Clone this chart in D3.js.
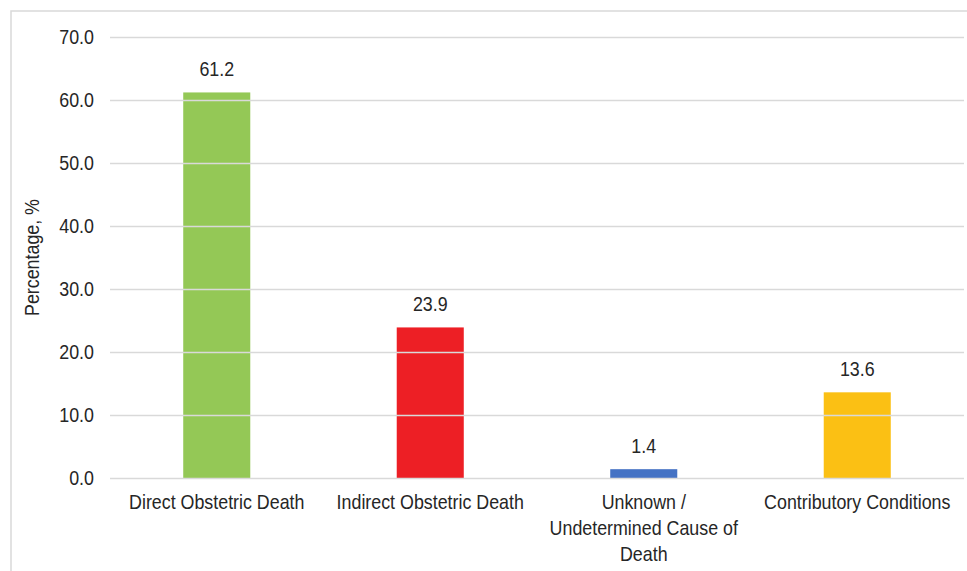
<!DOCTYPE html>
<html><head><meta charset="utf-8">
<script src="https://cdn.jsdelivr.net/npm/d3@7"></script>
<style>
html,body{margin:0;padding:0;background:#fff;}
svg{display:block;}
text{font-family:"Liberation Sans",Arial,sans-serif;fill:#262626;}
</style></head>
<body>
<svg id="chart" width="967" height="571"></svg>
<script>
const categories = [
  ["Direct Obstetric Death"],
  ["Indirect Obstetric Death"],
  ["Unknown /", "Undetermined Cause of", "Death"],
  ["Contributory Conditions"]
];
const values = [61.2, 23.9, 1.4, 13.6];
const barColors = ["#94C856", "#ED1F25", "#4472C4", "#FBC014"];
const yTicks = [0, 10, 20, 30, 40, 50, 60, 70];
const yTitle = "Percentage, %";

const svg = d3.select("#chart");
const plot = {left: 110, right: 964, top: 37, bottom: 478};
const FS = 21, CONDENSE = 0.85;

// chart border
svg.append("rect").attr("x", 11).attr("y", 11).attr("width", 1000).attr("height", 700)
  .attr("fill", "none").attr("stroke", "#d9d9d9").attr("stroke-width", 1.5);

const x = d3.scaleBand().domain(d3.range(categories.length))
  .range([plot.left, plot.right]).paddingInner(0.686).paddingOuter(0.343);
const y = d3.scaleLinear().domain([0, 70]).range([plot.bottom, plot.top]);

// bars
svg.append("g").selectAll("rect").data(values).join("rect")
  .attr("x", (d, i) => x(i))
  .attr("width", x.bandwidth())
  .attr("y", d => y(d))
  .attr("height", d => y(0) - y(d))
  .attr("fill", (d, i) => barColors[i]);

// gridlines (drawn over bars, as in reference)
const yAxis = d3.axisLeft(y).tickValues(yTicks).tickFormat(d3.format(".1f"))
  .tickSize(-(plot.right - plot.left)).tickPadding(16);
const gy = svg.append("g").attr("transform", `translate(${plot.left},0)`).call(yAxis);
gy.select(".domain").remove();
gy.selectAll(".tick line").attr("stroke", "#d9d9d9").attr("stroke-width", 1.5);
gy.selectAll(".tick text")
  .attr("font-size", FS).attr("fill", "#262626")
  .style("font-family", '"Liberation Sans",Arial,sans-serif')
  .attr("transform", function() {
    const tx = +d3.select(this).attr("x");
    return `translate(${tx},0) scale(${CONDENSE},1)`;
  })
  .attr("x", 0);

// value labels
svg.append("g").selectAll("text").data(values).join("text")
  .attr("transform", (d, i) => `translate(${x(i) + x.bandwidth() / 2},${y(d) - 16}) scale(${CONDENSE},1)`)
  .attr("text-anchor", "middle").attr("font-size", FS)
  .text(d => d.toFixed(1));

// category labels (one text per line)
const lines = [];
categories.forEach((c, i) => c.forEach((t, j) => lines.push({i, j, t})));
svg.append("g").selectAll("text").data(lines).join("text")
  .attr("transform", d => `translate(${x(d.i) + x.bandwidth() / 2},${509 + d.j * 26}) scale(${CONDENSE},1)`)
  .attr("text-anchor", "middle").attr("font-size", FS)
  .text(d => d.t);

// y title
svg.append("text")
  .attr("transform", `translate(39,${(plot.top + plot.bottom) / 2}) rotate(-90) scale(${CONDENSE},1)`)
  .attr("text-anchor", "middle").attr("font-size", FS)
  .text(yTitle);
</script>
</body></html>
